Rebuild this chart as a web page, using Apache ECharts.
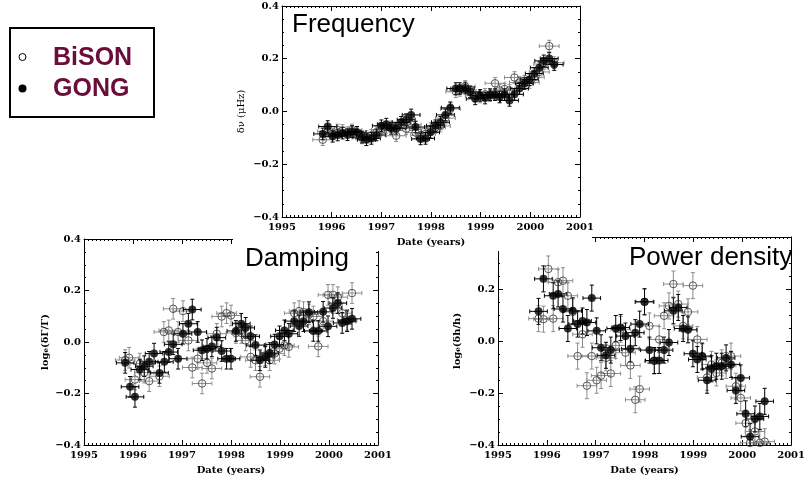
<!DOCTYPE html>
<html>
<head>
<meta charset="utf-8">
<style>
  html, body { margin: 0; padding: 0; background: #fff; }
  .chart { width: 808px; height: 479px; }
</style>
<script src="https://cdn.jsdelivr.net/npm/echarts@6/dist/echarts.min.js"></script>
</head>
<body>
<div class="chart"></div>
<script>
// 坐标轴刻度
var yearTicks = [1995, 1996, 1997, 1998, 1999, 2000, 2001];
var valueTicks = [-0.4, -0.2, 0.0, 0.2, 0.4];

// Frequency 面板
var freqGongYear = [1995.82, 1995.92, 1996.02, 1996.12, 1996.22, 1996.32, 1996.41, 1996.51, 1996.61, 1996.70, 1996.80, 1996.90,
  1997.00, 1997.10, 1997.20, 1997.30, 1997.40, 1997.50, 1997.60, 1997.69, 1997.79, 1997.89, 1997.99, 1998.09,
  1998.19, 1998.29, 1998.39, 1998.50, 1998.58, 1998.69, 1998.79, 1998.89, 1998.99, 1999.09, 1999.19, 1999.29,
  1999.38, 1999.48, 1999.58, 1999.68, 1999.78, 1999.88, 1999.98, 2000.08, 2000.18, 2000.27, 2000.38, 2000.48];
var freqGongVal = [-0.085, -0.057, -0.094, -0.089, -0.082, -0.088, -0.076, -0.079, -0.097, -0.107, -0.102, -0.089,
  -0.054, -0.048, -0.064, -0.064, -0.041, -0.031, -0.013, -0.059, -0.104, -0.102, -0.079, -0.054,
  -0.041, -0.013, 0.014, 0.087, 0.087, 0.089, 0.074, 0.048, 0.061, 0.051, 0.064, 0.064,
  0.055, 0.064, 0.042, 0.065, 0.087, 0.106, 0.121, 0.144, 0.166, 0.192, 0.201, 0.178];
var freqBisonYear = freqGongYear;
var freqBisonVal = [-0.107, -0.075, -0.085, -0.070, -0.072, -0.080, -0.070, -0.085, -0.100, -0.095, -0.090, -0.080,
  -0.070, -0.060, -0.058, -0.092, -0.050, -0.065, -0.050, -0.080, -0.090, -0.085, -0.065, -0.060,
  -0.055, -0.025, 0.010, 0.075, 0.080, 0.095, 0.075, 0.060, 0.055, 0.065, 0.060, 0.107,
  0.080, 0.085, 0.080, 0.129, 0.110, 0.115, 0.110, 0.130, 0.150, 0.180, 0.248, 0.185];
var freqErr = { gx: 0.18, bx: 0.2, y: 0.022 };

// Damping 面板
var dampGongYear = [1995.84, 1995.94, 1996.04, 1996.14, 1996.23, 1996.33, 1996.43, 1996.54, 1996.64, 1996.73, 1996.82, 1996.92,
  1997.02, 1997.13, 1997.21, 1997.32, 1997.41, 1997.51, 1997.61, 1997.71, 1997.81, 1997.91, 1998.00, 1998.10,
  1998.21, 1998.30, 1998.40, 1998.50, 1998.59, 1998.70, 1998.79, 1998.89, 1998.99, 1999.09, 1999.18, 1999.29,
  1999.39, 1999.48, 1999.59, 1999.68, 1999.78, 1999.88, 1999.98, 2000.08, 2000.18, 2000.27, 2000.37, 2000.47];
var dampGongVal = [-0.081, -0.174, -0.213, -0.107, -0.094, -0.077, -0.045, -0.120, -0.077, -0.039, -0.009, -0.065,
  0.032, 0.071, 0.126, 0.039, -0.032, -0.026, -0.017, 0.017, -0.035, -0.065, -0.065, 0.043,
  0.071, 0.055, 0.022, -0.012, -0.071, -0.058, -0.043, -0.010, 0.022, 0.045, 0.032, 0.081,
  0.062, 0.081, 0.116, 0.043, 0.043, 0.117, 0.061, 0.132, 0.151, 0.074, 0.081, 0.090];
var dampBisonYear = [1995.84, 1995.92, 1996.04, 1996.14, 1996.23, 1996.33, 1996.54, 1996.63, 1996.73, 1996.82, 1996.92,
  1997.02, 1997.13, 1997.21, 1997.32, 1997.41, 1997.51, 1997.61, 1997.71, 1997.81, 1997.91, 1998.00, 1998.10,
  1998.21, 1998.30, 1998.40, 1998.50, 1998.59, 1998.70, 1998.79, 1998.89, 1998.99, 1999.09, 1999.18, 1999.29,
  1999.39, 1999.48, 1999.59, 1999.68, 1999.78, 1999.88, 1999.98, 2000.08, 2000.18, 2000.27, 2000.37, 2000.47];
var dampBisonVal = [-0.070, -0.061, -0.146, -0.084, -0.119, -0.152, -0.133, 0.039, 0.045, 0.129, 0.039,
  0.120, 0.006, -0.099, -0.065, -0.161, -0.081, -0.103, 0.032, 0.099, 0.112, 0.103, 0.035,
  0.035, 0.006, -0.058, -0.071, -0.135, -0.052, -0.071, -0.045, -0.026, -0.013, -0.019, 0.112,
  0.120, 0.116, 0.107, 0.099, -0.017, 0.081, 0.183, 0.183, 0.174, 0.112, 0.086, 0.190];
var dampErr = { gx: 0.18, bx: 0.2, y: 0.04 };

// Power density 面板
var powGongYear = [1995.83, 1995.93, 1996.13, 1996.23, 1996.33, 1996.43, 1996.53, 1996.63, 1996.73, 1996.82, 1996.92,
  1997.02, 1997.11, 1997.21, 1997.31, 1997.41, 1997.51, 1997.61, 1997.71, 1997.81, 1997.90, 1998.00, 1998.10,
  1998.20, 1998.30, 1998.40, 1998.50, 1998.59, 1998.69, 1998.79, 1998.89, 1998.99, 1999.08, 1999.18, 1999.28,
  1999.37, 1999.47, 1999.58, 1999.67, 1999.77, 1999.87, 1999.97, 2000.07, 2000.16, 2000.26, 2000.36, 2000.46];
var powGongVal = [0.114, 0.239, 0.174, 0.181, 0.123, 0.048, 0.116, 0.065, 0.077, 0.071, 0.165,
  0.039, -0.026, -0.055, -0.035, 0.048, 0.052, 0.019, -0.030, 0.032, 0.065, 0.151, -0.035,
  -0.075, -0.075, -0.035, -0.006, 0.116, 0.129, 0.048, 0.043, -0.049, -0.071, -0.058, -0.151,
  -0.107, -0.097, -0.097, -0.065, -0.090, -0.190, -0.142, -0.280, -0.368, -0.300, -0.290, -0.232];
var powBisonYear = [1995.83, 1995.93, 1996.03, 1996.13, 1996.23, 1996.33, 1996.43, 1996.53, 1996.63, 1996.73, 1996.82,
  1996.92, 1997.02, 1997.11, 1997.21, 1997.31, 1997.41, 1997.51, 1997.61, 1997.71, 1997.81, 1997.90, 1998.00,
  1998.10, 1998.20, 1998.30, 1998.40, 1998.50, 1998.59, 1998.69, 1998.79, 1998.89, 1998.99, 1999.08, 1999.18,
  1999.28, 1999.37, 1999.47, 1999.58, 1999.67, 1999.77, 1999.87, 1999.97, 2000.07, 2000.16, 2000.26, 2000.36, 2000.46];
var powBisonVal = [0.086, 0.084, 0.277, 0.086, 0.226, 0.232, 0.174, 0.112, -0.058, 0.026, -0.172,
  -0.058, -0.151, -0.133, -0.065, -0.125, -0.017, 0.045, -0.045, -0.094, -0.226, -0.185, 0.150,
  0.058, -0.077, 0.006, 0.097, 0.135, 0.219, 0.142, 0.058, 0.112, 0.213, 0.006, -0.061,
  -0.140, -0.090, -0.123, -0.084, -0.094, -0.058, -0.174, -0.219, -0.316, -0.392, -0.348, -0.392, -0.387];
var powErr = { gx: 0.18, bx: 0.2, y: 0.05 };

var serif = 'DejaVu Serif';
var maroon = '#6b0d3b';

function pairs(xs, ys) {
  return xs.map(function (x, i) { return [x, ys[i]]; });
}

// 误差棒
function errBars(ex, ey, color) {
  return function (params, api) {
    var x = api.value(0), y = api.value(1);
    var c = api.coord([x, y]);
    var l = api.coord([x - ex, y])[0], r = api.coord([x + ex, y])[0];
    var t = api.coord([x, y + ey])[1], b = api.coord([x, y - ey])[1];
    var cap = 2;
    var st = { stroke: color, lineWidth: 1 };
    var segs = [
      [l, c[1], r, c[1]], [c[0], t, c[0], b],
      [l, c[1] - cap, l, c[1] + cap], [r, c[1] - cap, r, c[1] + cap],
      [c[0] - cap, t, c[0] + cap, t], [c[0] - cap, b, c[0] + cap, b]
    ];
    return {
      type: 'group',
      children: segs.map(function (s) {
        return { type: 'line', shape: { x1: s[0], y1: s[1], x2: s[2], y2: s[3] }, style: st };
      })
    };
  };
}

var grids = [
  { left: 282, top: 6, width: 298, height: 211 },
  { left: 84, top: 239, width: 294, height: 206 },
  { left: 498, top: 237, width: 299, height: 208 }
];
var yNames = ['δν (μHz)', 'log{s|e}(δΓ/Γ)', 'log{s|e}(δh/h)'];
var yNameGap = [36, 34, 36];
var levels = [2, 0, 0];

var xAxes = [], yAxes = [];
grids.forEach(function (g, i) {
  var zl = levels[i];
  [false, true].forEach(function (isTop) {
    xAxes.push({
      type: 'value', gridIndex: i, position: isTop ? 'top' : 'bottom', zlevel: zl,
      min: yearTicks[0], max: yearTicks[yearTicks.length - 1], interval: 1,
      name: isTop ? '' : 'Date (years)', nameLocation: 'middle', nameGap: 20,
      nameTextStyle: { fontFamily: serif, fontWeight: 'bold', fontSize: 10, color: '#000' },
      axisLine: { show: true, onZero: false, lineStyle: { color: '#000', width: 1 } },
      axisTick: { show: true, inside: true, length: 5, lineStyle: { color: '#000' } },
      minorTick: { show: true, splitNumber: 12, length: 2, lineStyle: { color: '#000' } },
      axisLabel: {
        show: !isTop, margin: 5, fontFamily: serif, fontWeight: 'bold', fontSize: 10, color: '#000',
        formatter: function (v) { return String(v); }
      },
      splitLine: { show: false }
    });
    yAxes.push({
      type: 'value', gridIndex: i, position: isTop ? 'right' : 'left', zlevel: zl,
      min: valueTicks[0], max: valueTicks[valueTicks.length - 1], interval: 0.2,
      name: isTop ? '' : yNames[i], nameLocation: 'middle', nameGap: yNameGap[i],
      nameTextStyle: {
        fontFamily: serif, fontWeight: i === 0 ? 'normal' : 'bold', fontSize: 10, color: '#000',
        rich: { s: { fontFamily: serif, fontWeight: 'bold', fontSize: 7, verticalAlign: 'bottom', color: '#000' } }
      },
      axisLine: { show: true, onZero: false, lineStyle: { color: '#000', width: 1 } },
      axisTick: { show: true, inside: true, length: 5, lineStyle: { color: '#000' } },
      minorTick: { show: true, splitNumber: 4, length: 2, lineStyle: { color: '#000' } },
      axisLabel: {
        show: !isTop, margin: 3, fontFamily: serif, fontWeight: 'bold', fontSize: 10, color: '#000',
        formatter: function (v) { return (v < -1e-9 ? '−' : '') + Math.abs(v).toFixed(1); }
      },
      splitLine: { show: false }
    });
  });
});

var panels = [
  { gy: freqGongYear, gv: freqGongVal, by: freqBisonYear, bv: freqBisonVal, err: freqErr },
  { gy: dampGongYear, gv: dampGongVal, by: dampBisonYear, bv: dampBisonVal, err: dampErr },
  { gy: powGongYear, gv: powGongVal, by: powBisonYear, bv: powBisonVal, err: powErr }
];

var series = [];
panels.forEach(function (p, i) {
  var zl = levels[i];
  var gd = pairs(p.gy, p.gv), bd = pairs(p.by, p.bv);
  series.push({
    type: 'custom', name: 'BiSON err', xAxisIndex: 2 * i, yAxisIndex: 2 * i, zlevel: zl, z: 2, clip: true,
    renderItem: errBars(p.err.bx, p.err.y, '#8c8c8c'), data: bd, silent: true
  });
  series.push({
    type: 'custom', name: 'GONG err', xAxisIndex: 2 * i, yAxisIndex: 2 * i, zlevel: zl, z: 3, clip: true,
    renderItem: errBars(p.err.gx, p.err.y, '#000'), data: gd, silent: true
  });
  series.push({
    type: 'scatter', name: 'BiSON', xAxisIndex: 2 * i, yAxisIndex: 2 * i, zlevel: zl, z: 4, clip: true,
    symbol: 'circle', symbolSize: 7.5, data: bd,
    itemStyle: { color: 'rgba(255,255,255,0)', borderColor: '#333', borderWidth: 1 }
  });
  series.push({
    type: 'scatter', name: 'GONG', xAxisIndex: 2 * i, yAxisIndex: 2 * i, zlevel: zl, z: 5, clip: true,
    symbol: 'circle', symbolSize: 8, data: gd,
    itemStyle: { color: '#000' }
  });
});

var titleStyle = { fontFamily: 'Liberation Sans', fontWeight: 'normal', fontSize: 26, color: '#000' };

;(function () {
  var myChart = echarts.init(document.querySelector('.chart'));
  var option = {
    backgroundColor: '#fff',
    animation: false,
    title: [
      { text: 'Frequency', left: 292, top: 12, textStyle: titleStyle, padding: 0, zlevel: 2 },
      { text: 'Damping', left: 245, top: 246, textStyle: titleStyle, padding: 0, zlevel: 2 },
      { text: 'Power density', left: 629, top: 245, textStyle: titleStyle, padding: 0, zlevel: 2 }
    ],
    grid: grids,
    xAxis: xAxes,
    yAxis: yAxes,
    series: series,
    graphic: [
      // 上面板的白底，盖住下面两个面板的边角
      { type: 'rect', zlevel: 1, shape: { x: 233, y: 0, width: 359, height: 251 }, style: { fill: '#fff' } },
      // 图例框
      { type: 'rect', zlevel: 2, shape: { x: 10, y: 28, width: 144, height: 89 },
        style: { fill: '#fff', stroke: '#000', lineWidth: 2 } },
      { type: 'circle', zlevel: 2, shape: { cx: 22.5, cy: 57, r: 3.5 },
        style: { fill: '#fff', stroke: '#000', lineWidth: 1 } },
      { type: 'circle', zlevel: 2, shape: { cx: 22.5, cy: 88.5, r: 4 }, style: { fill: '#000' } },
      { type: 'text', zlevel: 2, x: 53, y: 58.5,
        style: { text: 'BiSON', fill: maroon, font: 'bold 25px "Liberation Sans"', verticalAlign: 'middle' } },
      { type: 'text', zlevel: 2, x: 53, y: 89.5,
        style: { text: 'GONG', fill: maroon, font: 'bold 25px "Liberation Sans"', verticalAlign: 'middle' } }
    ]
  };
  myChart.setOption(option);
  window.addEventListener('resize', function () {
    myChart.resize();
  });
})();
</script>
</body>
</html>
